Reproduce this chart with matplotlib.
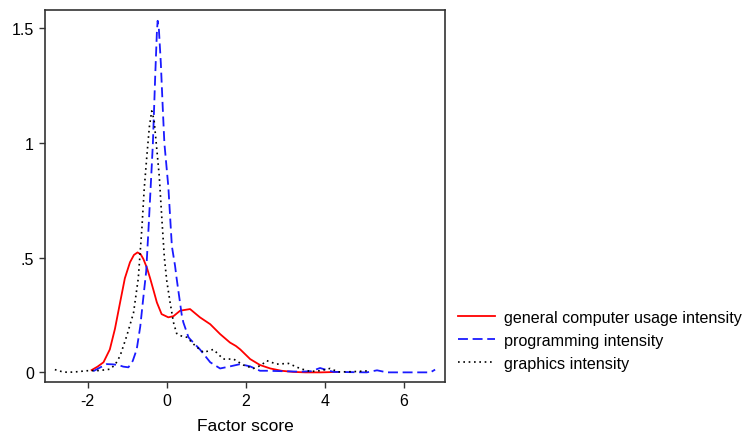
import matplotlib
matplotlib.use("Agg")
import matplotlib.pyplot as plt

plt.rcParams['font.family'] = ['Liberation Sans', 'DejaVu Sans']

# Kernel density estimates of the three factor scores
general_x = [-1.90, -1.75, -1.60, -1.44, -1.31, -1.18, -1.06, -0.93, -0.83, -0.74, -0.66,
             -0.59, -0.50, -0.42, -0.33, -0.25, -0.13, 0.04, 0.17, 0.34, 0.59, 0.84, 1.10,
             1.35, 1.60, 1.75, 1.86, 2.11, 2.36, 2.62, 2.90, 3.20, 3.50, 3.90, 4.35]
general_y = [0.010, 0.025, 0.044, 0.10, 0.19, 0.305, 0.41, 0.48, 0.512, 0.523, 0.515,
             0.494, 0.455, 0.41, 0.355, 0.305, 0.254, 0.24, 0.245, 0.269, 0.276, 0.24, 0.21,
             0.167, 0.13, 0.115, 0.10, 0.058, 0.032, 0.017, 0.007, 0.002, 0.0, 0.0, 0.002]

prog_x = [-1.86, -1.70, -1.52, -1.37, -1.22, -1.10, -0.97, -0.86, -0.76, -0.67, -0.59,
          -0.52, -0.46, -0.40, -0.35, -0.29, -0.25, -0.23, -0.20, -0.15, -0.10, -0.06,
          0.04, 0.13, 0.21, 0.25, 0.38, 0.42, 0.55, 0.59, 0.84, 1.10, 1.35, 1.60, 1.86,
          2.11, 2.36, 2.53, 2.95, 3.38, 3.65, 3.88, 4.05, 4.22, 5.06, 5.32, 5.57, 6.67, 6.79]
prog_y = [0.005, 0.02, 0.036, 0.035, 0.032, 0.025, 0.022, 0.05, 0.10, 0.20, 0.33,
          0.44, 0.63, 0.83, 1.0, 1.30, 1.48, 1.533, 1.50, 1.35, 1.15, 1.0,
          0.81, 0.55, 0.465, 0.41, 0.25, 0.218, 0.153, 0.145, 0.10, 0.044, 0.017, 0.026, 0.036,
          0.026, 0.007, 0.007, 0.005, 0.003, 0.005, 0.019, 0.01, 0.002, 0.0, 0.009, 0.0, 0.0, 0.012]

graph_x = [-2.83, -2.65, -2.50, -2.25, -2.03, -1.70, -1.43, -1.30, -1.18, -1.01, -0.84,
           -0.72, -0.63, -0.57, -0.50, -0.44, -0.38, -0.32, -0.25, -0.19, -0.12, -0.06,
           0.0, 0.08, 0.17, 0.25, 0.34, 0.51, 0.72, 0.93, 1.18, 1.43, 1.69, 1.94, 2.19,
           2.38, 2.53, 2.78, 3.08, 3.37, 3.63, 3.88, 4.13, 4.34, 4.70, 5.15]
graph_y = [0.012, 0.003, 0.0, 0.003, 0.007, 0.008, 0.014, 0.035, 0.072, 0.16, 0.26,
           0.41, 0.625, 0.80, 0.95, 1.07, 1.14, 1.10, 0.97, 0.857, 0.66, 0.50,
           0.40, 0.31, 0.218, 0.17, 0.16, 0.153, 0.116, 0.087, 0.10, 0.058, 0.058, 0.032, 0.017,
           0.03, 0.051, 0.036, 0.039, 0.017, 0.004, 0.007, 0.017, 0.002, 0.003, 0.007]

labels = ["general computer usage intensity", "programming intensity", "graphics intensity"]
x_ticks = [-2, 0, 2, 4, 6]
y_ticks = [0, 0.5, 1, 1.5]
y_tick_labels = ["0", ".5", "1", "1.5"]

fig = plt.figure(figsize=(7.43, 4.35), dpi=100)
ax = fig.add_axes([45 / 743, 1 - 383 / 435, 400 / 743, 372 / 435])

ax.plot(general_x, general_y, color='#ff0000', lw=1.3, ls='-', label=labels[0])
ax.plot(prog_x, prog_y, color='#1a1aff', lw=1.3, ls=(0, (5.5, 2.6)), label=labels[1])
ax.plot(graph_x, graph_y, color='#000000', lw=1.2, ls=(0, (1, 2.2)), label=labels[2])

ax.set_xlim(-3.08, 7.04)
ax.set_ylim(-0.042, 1.58)
ax.set_xticks(x_ticks)
ax.set_xticklabels([str(t) for t in x_ticks])
ax.set_yticks(y_ticks)
ax.set_yticklabels(y_tick_labels)
ax.tick_params(axis='both', direction='out', length=4.3, width=1, color='#333333',
               labelsize=11.5, pad=3.6)
for s in ax.spines.values():
    s.set_color('#333333')
    s.set_linewidth(1.2)

ax.set_xlabel("Factor score", fontsize=12.5, labelpad=7)

fig.legend(loc='upper left', bbox_to_anchor=(458 / 743, 1 - 311 / 435), frameon=False,
           fontsize=11.6, handlelength=2.3, handletextpad=0.55, labelspacing=0.5,
           borderaxespad=0, borderpad=0)

fig.savefig("out.png", dpi=100)
